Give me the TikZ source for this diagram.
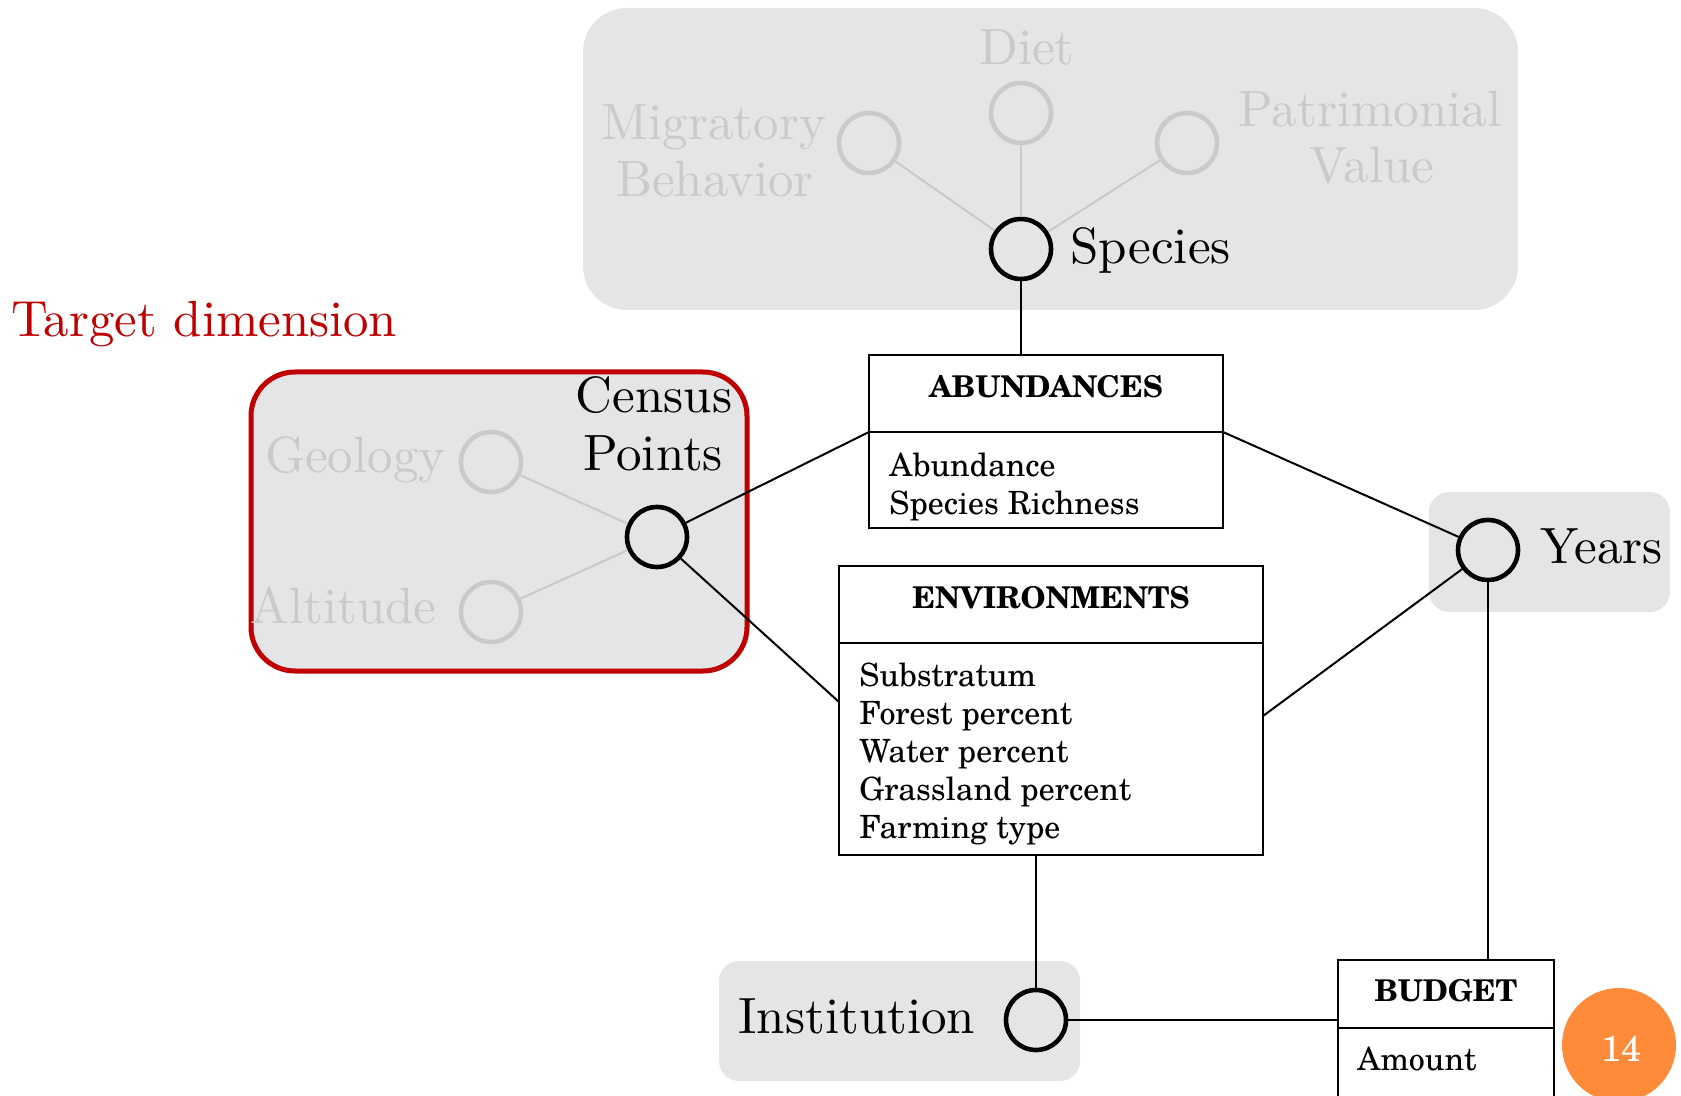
\documentclass[tikz,border=0pt]{standalone}
\usepackage{fontspec}
\usetikzlibrary{calc}
\definecolor{panel}{HTML}{E4E5E7}
\definecolor{faded}{HTML}{C9CACC}
\definecolor{dimred}{HTML}{C00000}
\definecolor{badge}{HTML}{FD8B3A}
% 10pt design size of Latin Modern, scaled up for the labels
\newfontfamily\cmten{lmroman10-regular}[Extension=.otf]
% Schoolbook face for the table boxes
\newfontfamily\schola{TeX Gyre Schola}
\begin{document}
\begin{tikzpicture}[x=0.5pt,y=-0.5pt,
  lbl/.style={font=\cmten\fontsize{25.5}{28.5}\selectfont, inner sep=0pt},
  fadedlbl/.style={lbl, text=faded},
  keycircle/.style={circle, draw=black, line width=2.3pt, minimum size=30pt, inner sep=0pt},
  attrcircle/.style={circle, draw=faded, line width=2.3pt, minimum size=30pt, inner sep=0pt},
  link/.style={draw=black, line width=1pt},
  fadedlink/.style={draw=faded, line width=1pt},
  entity/.style={draw=black, line width=1.2pt, inner sep=0pt},
  splitline/.style={draw=black, line width=1.2pt},
  etitle/.style={font=\schola\bfseries\fontsize{15}{18}\selectfont, inner sep=0pt, anchor=base},
  eattr/.style={font=\schola\fontsize{16}{19}\selectfont, inner sep=0pt, anchor=base west},
]
\useasboundingbox (0,0) rectangle (1681,1096);
\clip (0,0) rectangle (1681,1096);

% background panels
\fill[panel, rounded corners=22pt] (583,8) rectangle (1518,310);
\filldraw[fill=panel, draw=dimred, line width=2.5pt, rounded corners=22pt] (251,372) rectangle (747,671);
\fill[panel, rounded corners=10pt] (1429,492) rectangle (1670,612);
\fill[panel, rounded corners=10pt] (719,961) rectangle (1080,1081);

% species dimension
\node[keycircle] (species) at (1021,249) {};
\node[attrcircle] (migr) at (869,143) {};
\node[attrcircle] (diet) at (1021,113) {};
\node[attrcircle] (patr) at (1187,143) {};
\node[fadedlbl, anchor=base] (dietlbl) at (1027,65) {Diet};
\node[fadedlbl, anchor=base] (migrlbla) at (714,140) {Migratory};
\node[fadedlbl, anchor=base] (migrlblb) at (715,197) {Behavior};
\node[fadedlbl, anchor=base] (patrlbla) at (1370,127) {Patrimonial};
\node[fadedlbl, anchor=base] (patrlblb) at (1372,183) {Value};
\node[lbl, anchor=base west] (specieslbl) at (1070,264) {Species};
\draw[fadedlink] (migr) -- (species);
\draw[fadedlink] (diet) -- (species);
\draw[fadedlink] (patr) -- (species);

% census points dimension
\node[font=\cmten\fontsize{25.4}{28}\selectfont, text=dimred, anchor=base west, inner sep=0pt] (target) at (11,337) {Target dimension};
\node[keycircle] (census) at (657,537) {};
\node[attrcircle] (geo) at (491,462) {};
\node[attrcircle] (alt) at (491,612) {};
\node[lbl, anchor=base] (censuslbla) at (654,413) {Census};
\node[lbl, anchor=base] (censuslblb) at (653,471) {Points};
\node[fadedlbl, anchor=base east] (geolbl) at (446,473) {Geology};
\node[fadedlbl, anchor=base east] (altlbl) at (437,623) {Altitude};
\draw[fadedlink] (geo) -- (census);
\draw[fadedlink] (alt) -- (census);

% years and institution dimensions
\node[keycircle] (years) at (1488,550) {};
\node[lbl, anchor=base west] (yearslbl) at (1540,563) {Years};
\node[keycircle] (inst) at (1036,1020) {};
\node[lbl, anchor=base west] (instlbl) at (738,1033) {Institution};

% ABUNDANCES table
\node[entity, minimum width=177pt, minimum height=86.5pt] (abund) at (1046,441.5) {};
\coordinate (abundW) at (869,432);
\coordinate (abundE) at (1223,432);
\draw[splitline] (abundW) -- (abundE);
\node[etitle] (abundtitle) at (1046,398) {ABUNDANCES};
\node[eattr] (abunda) at (889,476) {Abundance};
\node[eattr] (abundb) at (889,514) {Species Richness};

% ENVIRONMENTS table
\node[entity, minimum width=212pt, minimum height=144.5pt] (env) at (1051,710.5) {};
\coordinate (envsplitW) at (839,643);
\coordinate (envsplitE) at (1263,643);
\draw[splitline] (envsplitW) -- (envsplitE);
\node[etitle] (envtitle) at (1051,608) {ENVIRONMENTS};
\node[eattr] (enva) at (859,686) {Substratum};
\node[eattr] (envb) at (859,724) {Forest percent};
\node[eattr] (envc) at (859,762) {Water percent};
\node[eattr] (envd) at (859,800) {Grassland percent};
\node[eattr] (enve) at (859,838) {Farming type};
\coordinate (envW) at (839,702);
\coordinate (envE) at (1263,716);

% BUDGET table
\node[entity, minimum width=108pt, minimum height=90pt] (budget) at (1446,1050) {};
\coordinate (budgetW) at (1338,1028);
\coordinate (budgetE) at (1554,1028);
\draw[splitline] (budgetW) -- (budgetE);
\node[etitle] (budgettitle) at (1446,1001) {BUDGET};
\node[eattr] (budgeta) at (1357,1070) {Amount};

% connectors
\draw[link] (species) -- (species |- abund.north);
\draw[link] (census) -- (abundW);
\draw[link] (census) -- (envW);
\draw[link] (abundE) -- (years);
\draw[link] (envE) -- (years);
\draw[link] (years) -- (years |- budget.north);
\draw[link] (inst) -- (inst |- env.south);
\draw[link] (inst) -- (inst -| budget.west);

% page badge
\node[circle, fill=badge, minimum size=57pt, inner sep=0pt] (pagenum) at (1619,1045) {};
\node[text=white, font=\schola\fontsize{18}{21}\selectfont, inner sep=0pt, anchor=base] (pagenumtxt) at (1621,1061) {14};
\end{tikzpicture}
\end{document}
